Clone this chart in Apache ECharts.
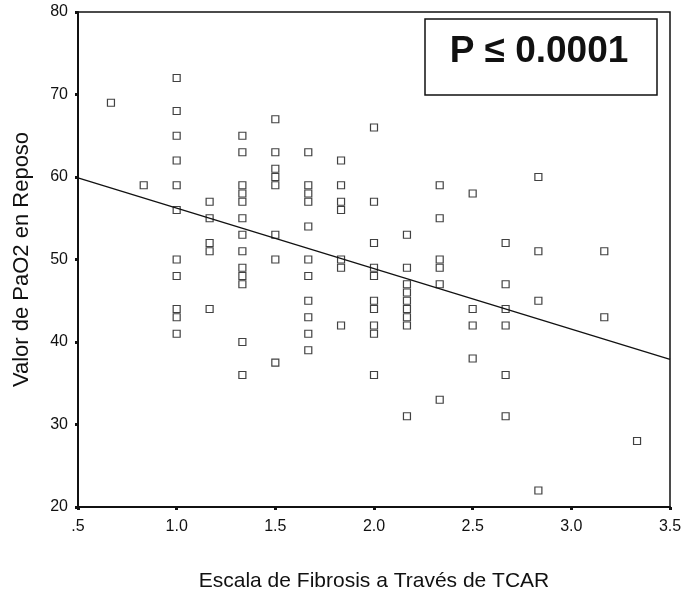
<!DOCTYPE html>
<html>
<head>
<meta charset="utf-8">
<script src="https://cdn.jsdelivr.net/npm/echarts@6/dist/echarts.min.js"></script>
<style>
    html, body { margin: 0; padding: 0; background: #fff; }
    #chart { width: 689px; height: 597px; }
</style>
</head>
<body>
<div id="chart"></div>
<script>
// fibrosis score (x) and the PaO2 readings at each score
var scores = [0.667, 0.833, 1.0, 1.167, 1.333, 1.5, 1.667, 1.833, 2.0, 2.167, 2.333, 2.5, 2.667, 2.833, 3.167, 3.333];
var pao2 = [
    [69],
    [59],
    [72, 68, 65, 62, 59, 56, 50, 48, 44, 43, 41],
    [57, 55, 52, 51, 44],
    [65, 63, 59, 58, 57, 55, 53, 51, 49, 48, 47, 40, 36],
    [67, 63, 61, 60, 59, 53, 50, 37.5],
    [63, 59, 58, 57, 54, 50, 48, 45, 43, 41, 39],
    [62, 59, 57, 56, 50, 49, 42],
    [66, 57, 52, 49, 48, 45, 44, 42, 41, 36],
    [53, 49, 47, 46, 45, 44, 43, 42, 31],
    [59, 55, 50, 49, 47, 33],
    [58, 44, 42, 38],
    [52, 47, 44, 42, 36, 31],
    [60, 51, 45, 22],
    [51, 43],
    [28]
];
// regression line ends
var fitX = [0.5, 3.5];
var fitY = [59.9, 37.9];
var xTickLabels = ['.5', '1.0', '1.5', '2.0', '2.5', '3.0', '3.5'];
var pText = 'P \u2264 0.0001';

var points = [];
scores.forEach(function (s, i) {
    pao2[i].forEach(function (v) {
        points.push([s, v]);
    });
});

var font = 'Liberation Sans, Arial, sans-serif';
var myChart = echarts.init(document.getElementById('chart'));
var option = {
    backgroundColor: '#fff',
    animation: false,
    grid: {
        left: 78, right: 19, top: 12, bottom: 89,
        show: true, borderColor: '#111', borderWidth: 1.5, backgroundColor: 'transparent'
    },
    xAxis: {
        type: 'value', min: 0.5, max: 3.5, interval: 0.5,
        name: 'Escala de Fibrosis a Través de TCAR',
        nameLocation: 'middle', nameGap: 64,
        nameTextStyle: { fontFamily: font, fontSize: 21, color: '#111' },
        axisLine: { lineStyle: { color: '#111', width: 2 } },
        axisTick: { length: 3, lineStyle: { color: '#111', width: 3 } },
        splitLine: { show: false },
        axisLabel: {
            fontFamily: font, fontSize: 16, color: '#111', margin: 12,
            formatter: function (v) { return xTickLabels[Math.round((v - 0.5) / 0.5)]; }
        }
    },
    yAxis: {
        type: 'value', min: 20, max: 80, interval: 10,
        name: 'Valor de PaO2 en Reposo',
        nameLocation: 'middle', nameGap: 45,
        nameTextStyle: { fontFamily: font, fontSize: 22, color: '#111' },
        axisLine: { show: true, lineStyle: { color: '#111', width: 2 } },
        axisTick: { show: true, length: 3, lineStyle: { color: '#111', width: 3 } },
        splitLine: { show: false },
        axisLabel: { fontFamily: font, fontSize: 16, color: '#111', margin: 10 }
    },
    series: [
        {
            type: 'scatter',
            symbol: 'rect',
            symbolSize: 7,
            itemStyle: { color: '#fff', borderColor: '#111', borderWidth: 1.2 },
            data: points
        },
        {
            type: 'line',
            symbol: 'none',
            lineStyle: { color: '#111', width: 1.3 },
            data: [[fitX[0], fitY[0]], [fitX[1], fitY[1]]]
        }
    ],
    graphic: [
        {
            type: 'rect',
            shape: { x: 425, y: 19, width: 232, height: 76 },
            style: { fill: '#fff', stroke: '#111', lineWidth: 1.5 }
        },
        {
            type: 'text',
            x: 539, y: 52,
            style: {
                text: pText, fontFamily: font, fontSize: 37, fontWeight: 'bold',
                fill: '#111', align: 'center', verticalAlign: 'middle'
            }
        }
    ]
};
myChart.setOption(option);
</script>
</body>
</html>
